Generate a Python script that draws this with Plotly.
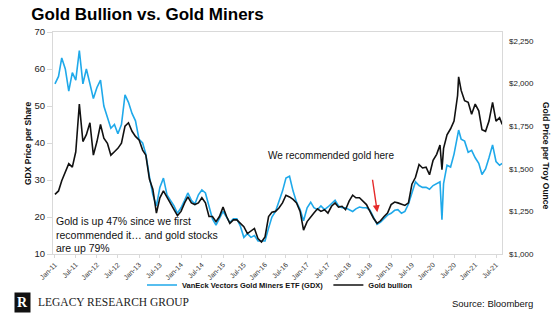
import pandas as pd
import plotly.graph_objects as go

# ---------------- data ----------------
# GDX price per share, monthly (1st of month), Jan 2011 .. Aug 2021
gdx_2011 = [56, 58, 63, 60, 54, 59, 57, 65, 56, 60, 56, 52]
gdx_2012 = [55, 57, 50, 47, 44, 45, 42.5, 45, 53, 51, 48, 46]
gdx_2013 = [41, 40, 37, 31, 26, 23, 28, 30.5, 26, 24.5, 23, 21]
gdx_2014 = [22.5, 24.5, 26.5, 24.5, 23.5, 26, 27.3, 26.5, 23, 19.5, 17.8, 19.5]
gdx_2015 = [21.5, 20, 18.5, 19.5, 19.5, 17.5, 14.5, 15.5, 14.5, 15, 13.5, 13.5]
gdx_2016 = [13.5, 17, 20, 21.5, 24, 27, 30.5, 31, 27, 24, 22, 19]
gdx_2017 = [22.5, 24, 22.5, 22, 23, 22, 22.7, 23.5, 24.5, 23, 22.5, 22.5]
gdx_2018 = [22, 21.5, 22.2, 22.7, 22.5, 22.5, 21.9, 20, 18, 18.6, 19.5, 20.5]
gdx_2019 = [21, 21.8, 22, 21, 21.5, 23.5, 26.5, 29.5, 28.5, 28, 28, 27.5]
gdx_2020 = [28.5, 29, 29.5, 29, 34, 33.5, 37, 42, 41, 40.5, 37.5, 38]
gdx_2021 = [36, 34.5, 31.5, 33, 36, 39.5, 35, 34]

# Gold bullion, $/oz, monthly (1st of month), Jan 2011 .. Aug 2021
gold_2011 = [1350, 1370, 1430, 1480, 1530, 1510, 1600, 1880, 1660, 1700, 1770, 1580]
gold_2012 = [1660, 1760, 1680, 1650, 1580, 1600, 1620, 1650, 1750, 1770, 1720, 1690]
gold_2013 = [1670, 1610, 1580, 1440, 1380, 1240, 1330, 1370, 1330, 1300, 1260, 1225]
gold_2014 = [1250, 1300, 1335, 1300, 1290, 1300, 1330, 1300, 1220, 1220, 1190, 1220]
gold_2015 = [1275, 1220, 1180, 1200, 1200, 1180, 1160, 1120, 1135, 1150, 1090, 1070]
gold_2016 = [1100, 1220, 1245, 1250, 1270, 1300, 1345, 1335, 1320, 1300, 1250, 1140]
gold_2017 = [1190, 1220, 1240, 1265, 1250, 1260, 1240, 1280, 1300, 1275, 1280, 1260]
gold_2018 = [1310, 1345, 1330, 1330, 1310, 1290, 1250, 1210, 1180, 1195, 1220, 1240]
gold_2019 = [1290, 1305, 1300, 1290, 1285, 1300, 1410, 1450, 1525, 1505, 1510, 1465]
gold_2020 = [1550, 1585, 1640, 1620, 1700, 1735, 1780, 1930, 1960, 1900, 1890, 1820]
gold_2021 = [1880, 1840, 1730, 1720, 1780, 1890, 1780, 1800]

# a few extra intra-month readings (crash low, peak, last point)
extra_dates = ["2020-03-18", "2020-08-10", "2021-08-24"]
extra_gdx = [19.3, 43.5, 34.5]
extra_gold = [1495, 2040, 1760]

tick_dates = [f"{y}-{m:02d}-01" for y in range(2011, 2022) for m in (1, 7)]
tick_labels = [f"{'Jan' if m == 1 else 'Jul'}-{str(y)[2:]}" for y in range(2011, 2022) for m in (1, 7)]

gold_ticks = [1000, 1250, 1500, 1750, 2000, 2250]
gold_tick_labels = [f"${v:,}" for v in gold_ticks]

# ---------------- assemble ----------------
months = pd.date_range("2011-01-01", "2021-08-01", freq="MS")
gdx_m = (gdx_2011 + gdx_2012 + gdx_2013 + gdx_2014 + gdx_2015 + gdx_2016 +
         gdx_2017 + gdx_2018 + gdx_2019 + gdx_2020 + gdx_2021)
gold_m = (gold_2011 + gold_2012 + gold_2013 + gold_2014 + gold_2015 + gold_2016 +
          gold_2017 + gold_2018 + gold_2019 + gold_2020 + gold_2021)
df = pd.DataFrame({"date": list(months) + list(pd.to_datetime(extra_dates)),
                   "gdx": gdx_m + extra_gdx,
                   "gold": gold_m + extra_gold}).sort_values("date")

SANS = "Liberation Sans, Arial, sans-serif"
SERIF = "Liberation Serif, Times New Roman, serif"
BLUE = "#1fa9ea"
BLACK = "#111111"
GRID = "#d9d9d9"

fig = go.Figure()
fig.add_trace(go.Scatter(x=df["date"], y=df["gdx"], mode="lines",
                         name="<b>VanEck Vectors Gold Miners ETF (GDX)</b>",
                         line=dict(color=BLUE, width=1.6), yaxis="y"))
fig.add_trace(go.Scatter(x=df["date"], y=df["gold"], mode="lines",
                         name="<b>Gold bullion</b>",
                         line=dict(color=BLACK, width=1.6), yaxis="y2"))

L, R, T, B = 53, 58, 32, 67
W, H = 560, 321
pw, ph = W - L - R, H - T - B


def px(x):
    return (x - L) / pw


def py(y):
    return (H - B - y) / ph


fig.update_layout(
    width=W, height=H, autosize=False,
    margin=dict(l=L, r=R, t=T, b=B, pad=0),
    paper_bgcolor="white", plot_bgcolor="white",
    font=dict(family=SANS, color="#111", size=10),
    title=dict(text="<b>Gold Bullion vs. Gold Miners</b>", x=147.5 / W, xanchor="center",
               y=1 - 14 / H, yanchor="middle", xref="container", yref="container",
               font=dict(family=SANS, size=17, color="#000")),
    xaxis=dict(type="date", range=["2010-12-15", "2021-08-22"],
               tickvals=tick_dates, ticktext=tick_labels, tickangle=-45,
               tickfont=dict(size=7, color="#333"),
               ticks="outside", ticklen=3, tickcolor=GRID,
               showgrid=False, zeroline=False, showline=True, linecolor=GRID, mirror=True),
    yaxis=dict(range=[10, 70], dtick=10, showgrid=False, zeroline=False,
               ticks="outside", ticklen=5, tickcolor=GRID,
               showline=True, linecolor=GRID, mirror=True,
               tickfont=dict(size=9.5, color="#222")),
    yaxis2=dict(range=[1000, 1000 + 1250 * 222 / 213], overlaying="y", side="right",
                tickvals=gold_ticks, ticktext=gold_tick_labels,
                showgrid=False, zeroline=False, ticks="", ticklabelstandoff=6,
                tickfont=dict(size=8, color="#222")),
    showlegend=True,
    legend=dict(orientation="h", x=px(142), xanchor="left", y=py(285), yanchor="middle",
                font=dict(size=7.5, color="#111"), bgcolor="rgba(0,0,0,0)",
                tracegroupgap=0),
)

fig.add_annotation(text="<b>GDX Price per Share</b>", xref="paper", yref="paper",
                   x=px(28), y=py(144), xanchor="center", yanchor="middle",
                   textangle=-90, showarrow=False,
                   font=dict(size=8.5, color="#111"))
fig.add_annotation(text="<b>Gold Price per Troy Ounce</b>", xref="paper", yref="paper",
                   x=px(546), y=py(155), xanchor="center", yanchor="middle",
                   textangle=90, showarrow=False,
                   font=dict(size=8.5, color="#111"))

fig.add_annotation(text="Gold is up 47% since we first<br>recommended it\u2026 and gold stocks<br>are up 79%",
                   xref="paper", yref="paper", x=px(54), y=py(234), xanchor="left",
                   yanchor="middle", align="left", showarrow=False,
                   font=dict(size=10.5, color="#111"))
fig.add_annotation(text="We recommended gold here", xref="paper", yref="paper",
                   x=px(331), y=py(155), xanchor="center", yanchor="middle",
                   showarrow=False, font=dict(size=10, color="#111"))
fig.add_annotation(x="2018-09-03", y=1245, xref="x", yref="y2", text="",
                   showarrow=True, ax=-5, ay=-34, arrowcolor="#e52a2a",
                   arrowwidth=1.4, arrowhead=2, arrowsize=1)

# footer: logo and source
fig.add_annotation(text="<b>R</b>", xref="paper", yref="paper", x=px(23), y=py(302),
                   xanchor="center", yanchor="middle",
                   showarrow=False, bgcolor="#111", borderpad=2,
                   font=dict(family=SERIF, size=14, color="white"))
fig.add_annotation(text="LEGACY RESEARCH GROUP", xref="paper", yref="paper",
                   x=px(36), y=py(302), xanchor="left", yanchor="middle", showarrow=False,
                   font=dict(family=SERIF, size=11.5, color="#222"))
fig.add_annotation(text="Source: Bloomberg", xref="paper", yref="paper",
                   x=px(535), y=py(303), xanchor="right", yanchor="middle", showarrow=False,
                   font=dict(size=9.5, color="#111"))

fig.write_html("out.html")
